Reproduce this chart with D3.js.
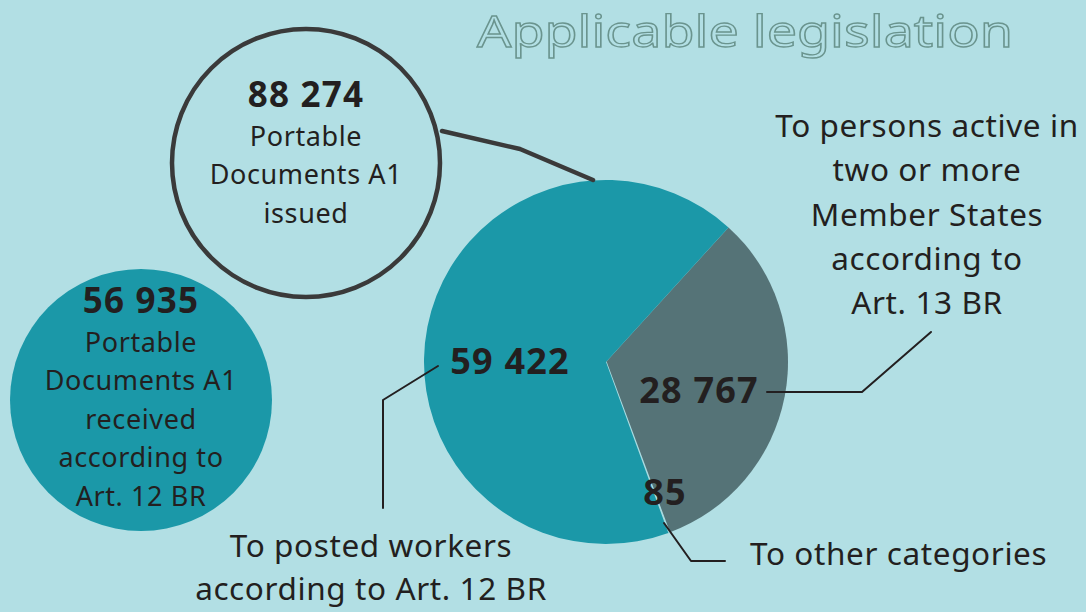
<!DOCTYPE html>
<html>
<head>
<meta charset="utf-8">
<script src="https://cdn.jsdelivr.net/npm/d3@7"></script>
<style>
  html, body { margin: 0; padding: 0; background: #b2dfe4; }
  svg { display: block; }
  text { font-family: "Noto Sans", sans-serif; fill: #231f20; }
</style>
</head>
<body>
<div id="chart"></div>
<script>
const width = 1086, height = 612;

// slices of the pie, clockwise from the top right
const categories = ["Art. 13 BR", "Other categories", "Art. 12 BR"];
const values = [28767, 85, 59422];
const valueLabels = ["28 767", "85", "59 422"];
const totalIssued = "88 274";
const totalReceived = "56 935";

const colors = ["#557377", "#a9dbe1", "#1b98a8"];

const svg = d3.select("#chart")
    .append("svg")
    .attr("width", width)
    .attr("height", height);

svg.append("rect")
    .attr("width", width)
    .attr("height", height)
    .attr("fill", "#b2dfe4");

// Title (outlined)
svg.append("text")
    .attr("x", 745)
    .attr("y", 47)
    .attr("text-anchor", "middle")
    .attr("textLength", 536)
    .attr("lengthAdjust", "spacingAndGlyphs")
    .style("font-size", "43.5px")
    .style("fill", "#b2dfe4")
    .style("stroke", "#6a948e")
    .style("stroke-width", 1.3)
    .text("Applicable legislation");

// Pie
const cx = 606, cy = 362, radius = 182;
const start = 42.3 * Math.PI / 180;

const pie = d3.pie()
    .sort(null)
    .startAngle(start)
    .endAngle(start + 2 * Math.PI);

const arc = d3.arc()
    .innerRadius(0)
    .outerRadius(radius);

const pieG = svg.append("g")
    .attr("transform", `translate(${cx}, ${cy})`);

pieG.selectAll("path")
    .data(pie(values))
    .join("path")
    .attr("d", arc)
    .attr("fill", (d, i) => colors[i])
    .attr("stroke", (d, i) => i === 1 ? colors[1] : "none")
    .attr("stroke-width", 1.5);

// Leader lines
const lines = [
    { pts: [[442, 131], [520, 149], [593, 180]], color: "#3a3a3a", w: 4.5 },
    { pts: [[438, 366], [383, 400], [383, 508]], color: "#231f20", w: 2 },
    { pts: [[767, 392], [862, 392], [931, 332]], color: "#231f20", w: 2 },
    { pts: [[664, 523], [691, 561], [725, 561]], color: "#231f20", w: 2 }
];
lines.forEach(l => {
    svg.append("path")
        .attr("d", d3.line()(l.pts))
        .attr("fill", "none")
        .attr("stroke", l.color)
        .attr("stroke-width", l.w)
        .attr("stroke-linecap", "round")
        .attr("stroke-linejoin", "round");
});

// Value labels on the pie
const valuePos = [[699, 403], [665, 505], [510, 374]];
valueLabels.forEach((v, i) => {
    svg.append("text")
        .attr("x", valuePos[i][0])
        .attr("y", valuePos[i][1])
        .attr("text-anchor", "middle")
        .style("font-size", "36px")
        .style("font-weight", "bold")
        .style("letter-spacing", "1.2px")
        .text(v);
});

// Issued circle
svg.append("circle")
    .attr("cx", 306)
    .attr("cy", 163)
    .attr("r", 134)
    .attr("fill", "none")
    .attr("stroke", "#3a3a3a")
    .attr("stroke-width", 4.5);

// Received circle
svg.append("circle")
    .attr("cx", 141)
    .attr("cy", 400)
    .attr("r", 131)
    .attr("fill", "#1b98a8");

function block(x, y0, lh, lines, size, boldFirst) {
    lines.forEach((t, i) => {
        const bold = boldFirst && i === 0;
        svg.append("text")
            .attr("x", x)
            .attr("y", y0 + i * lh)
            .attr("text-anchor", "middle")
            .style("font-size", (bold ? 35 : size) + "px")
            .style("font-weight", bold ? "bold" : "normal")
            .style("letter-spacing", bold ? "1.2px" : "0.6px")
            .text(t);
    });
}

block(306, 107, 38.5, [totalIssued, "Portable", "Documents A1", "issued"], 27, true);
block(141, 313, 38.5, [totalReceived, "Portable", "Documents A1", "received", "according to", "Art. 12 BR"], 27, true);

block(927, 137, 44.3, ["To persons active in", "two or more", "Member States", "according to", "Art. 13 BR"], 31.5, false);
block(371, 557, 43, ["To posted workers", "according to Art. 12 BR"], 31.5, false);

svg.append("text")
    .attr("x", 750)
    .attr("y", 565)
    .style("font-size", "31.5px")
    .style("letter-spacing", "0.6px")
    .text("To other categories");
</script>
</body>
</html>
